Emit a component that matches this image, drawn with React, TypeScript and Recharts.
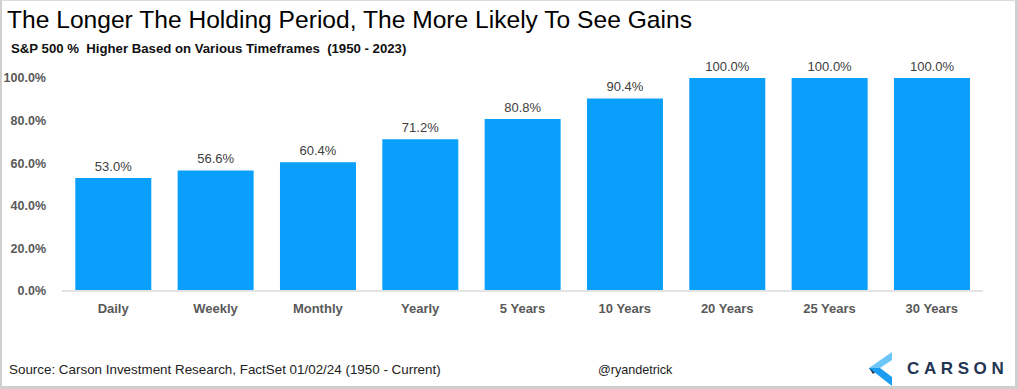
import { BarChart, Bar, XAxis, YAxis, LabelList } from "recharts";

const periods = [
  "Daily",
  "Weekly",
  "Monthly",
  "Yearly",
  "5 Years",
  "10 Years",
  "20 Years",
  "25 Years",
  "30 Years",
];
const pctHigher = [53.0, 56.6, 60.4, 71.2, 80.8, 90.4, 100.0, 100.0, 100.0];
const yTicks = [0, 20, 40, 60, 80, 100];

const data = periods.map((p, i) => ({ period: p, value: pctHigher[i] }));

const FONT = "'Liberation Sans', Arial, sans-serif";

function CarsonLogo() {
  return (
    <div style={{ position: "absolute", left: 867, top: 350, display: "flex", alignItems: "center" }}>
      <svg width={26} height={36} viewBox="0 0 26 36">
        <polygon points="0,17 23,1 23,9 11,17" fill="#6cc5f7" />
        <polygon points="0,17 11,17 4,23" fill="#1b2f4a" />
        <polygon points="0,17 11,17 23,26 23,35" fill="#1a9cf0" />
      </svg>
      <span
        style={{
          marginLeft: 12,
          fontFamily: FONT,
          fontSize: 17,
          letterSpacing: 4.6,
          color: "#1f3553",
          fontWeight: 700,
        }}
      >
        CARSON
      </span>
    </div>
  );
}

export default function App() {
  return (
    <div
      style={{
        position: "relative",
        width: 1018,
        height: 389,
        boxSizing: "border-box",
        borderLeft: "2px solid #cfcfcf",
        borderBottom: "3px solid #cfcfcf",
        borderRight: "3px solid #cfcfcf",
        borderTop: "1px solid #dcdcdc",
        background: "#fff",
        fontFamily: FONT,
        overflow: "hidden",
      }}
    >
      <style>{"body{margin:0}"}</style>
      <div style={{ position: "absolute", left: 5, top: 5, fontSize: 24.6, color: "#000", whiteSpace: "nowrap" }}>
        The Longer The Holding Period, The More Likely To See Gains
      </div>
      <div
        style={{
          position: "absolute",
          left: 9,
          top: 40,
          fontSize: 13.2,
          fontWeight: 700,
          color: "#111",
          whiteSpace: "nowrap",
        }}
      >
        S&amp;P 500 %&nbsp; Higher Based on Various Timeframes&nbsp; (1950 - 2023)
      </div>
      <div style={{ position: "absolute", left: -2, top: -1 }}>
        <BarChart
          width={1018}
          height={389}
          data={data}
          margin={{ top: 78, right: 35, bottom: 68, left: 0 }}
          barCategoryGap="13%"
        >
          <XAxis
            dataKey="period"
            tickLine={false}
            axisLine={{ stroke: "#e3e3e3", strokeWidth: 2 }}
            tickMargin={7}
            tick={{ fill: "#595959", fontSize: 13, fontWeight: 700, fontFamily: FONT }}
            interval={0}
            height={30}
          />
          <YAxis
            domain={[0, 100]}
            ticks={yTicks}
            tickFormatter={(v: number) => `${v.toFixed(1)}%`}
            tickLine={false}
            axisLine={false}
            tickMargin={10}
            width={62}
            tick={{ fill: "#595959", fontSize: 12.5, fontWeight: 700, fontFamily: FONT }}
          />
          <Bar dataKey="value" fill="#0a9ffb" isAnimationActive={false}>
            <LabelList
              dataKey="value"
              position="top"
              offset={7}
              formatter={(v: number) => `${v.toFixed(1)}%`}
              style={{ fill: "#404040", fontSize: 13, fontFamily: FONT }}
            />
          </Bar>
        </BarChart>
      </div>
      <div style={{ position: "absolute", left: 7, top: 361, fontSize: 13.4, color: "#222", whiteSpace: "nowrap" }}>
        Source: Carson Investment Research, FactSet 01/02/24 (1950 - Current)
      </div>
      <div style={{ position: "absolute", left: 596, top: 362, fontSize: 12.6, color: "#222" }}>
        @ryandetrick
      </div>
      <CarsonLogo />
    </div>
  );
}
